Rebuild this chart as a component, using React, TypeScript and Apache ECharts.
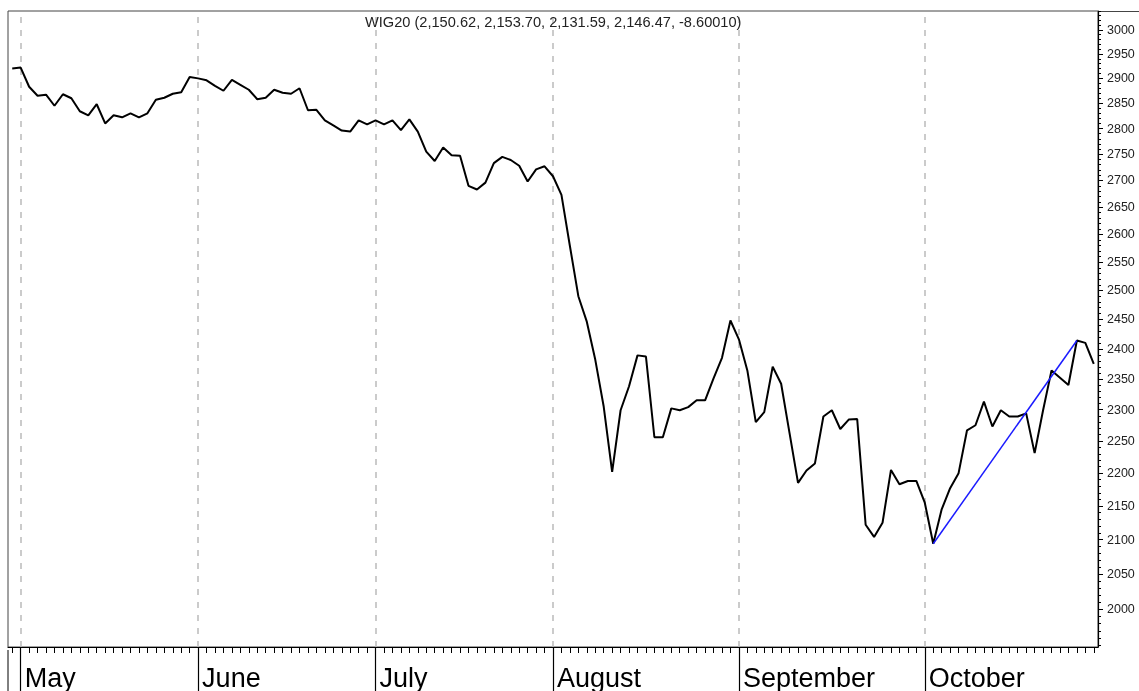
import React, { useEffect, useRef } from 'react';
import * as echarts from 'echarts';

const titleText = 'WIG20 (2,150.62, 2,153.70, 2,131.59, 2,146.47, -8.60010)';

const months = ['May', 'June', 'July', 'August', 'September', 'October'];
// index of the first trading day of each month in the closes array
const monthStarts = [1, 22, 43, 64, 86, 108];

const closes = [
  2920, 2922, 2883, 2865, 2867, 2845, 2868, 2860, 2834, 2826,
  2848, 2810, 2826, 2822, 2830, 2822, 2830, 2857, 2861, 2869,
  2872, 2903, 2900, 2896, 2885, 2875, 2897, 2887, 2877, 2858,
  2861, 2877, 2871, 2869, 2880, 2836, 2837, 2816, 2806, 2796,
  2794, 2816, 2808, 2816, 2808, 2816, 2797, 2818, 2794, 2755,
  2737, 2763, 2748, 2747, 2690, 2683, 2696, 2733, 2745, 2739,
  2728, 2698, 2721, 2727, 2708, 2673, 2579, 2490, 2446, 2382,
  2305, 2202, 2299, 2338, 2389, 2387, 2256, 2256, 2302, 2299,
  2304, 2315, 2315, 2351, 2385, 2448, 2416, 2364, 2280, 2296,
  2370, 2342, 2262, 2185, 2204, 2215, 2289, 2299, 2269, 2284,
  2285, 2122, 2104, 2125, 2205, 2183, 2188, 2188, 2155, 2094,
  2145, 2177, 2200, 2267, 2275, 2313, 2273, 2299, 2289, 2289,
  2294, 2231, 2299, 2364, 2352, 2340, 2414, 2410, 2375,
];

const trendStart = [109, 2094];
const trendEnd = [126, 2414];

const yTicks = [
  2000, 2050, 2100, 2150, 2200, 2250, 2300, 2350, 2400, 2450, 2500,
  2550, 2600, 2650, 2700, 2750, 2800, 2850, 2900, 2950, 3000,
];
const yMin = 1948;
const yMax = 3040;

export default function App() {
  const ref = useRef<HTMLDivElement>(null);

  useEffect(() => {
    const chart = echarts.init(ref.current as HTMLDivElement, null, { renderer: 'svg' });
    const days = closes.map((_, i) => String(i));
    const minorTicks: number[] = [];
    for (let v = 1950; v <= yMax; v += 10) minorTicks.push(v);
    const isMonth = (i: number) => monthStarts.indexOf(i) >= 0;
    const font = 'Liberation Sans, Arial, sans-serif';

    chart.setOption({
      animation: false,
      title: {
        text: titleText,
        left: 365,
        top: 14,
        padding: 0,
        textStyle: { fontSize: 14.6, fontWeight: 'normal', color: '#222', fontFamily: font },
      },
      grid: {
        left: 8,
        right: 41,
        top: 11,
        bottom: 41,
        containLabel: false,
        show: true,
        borderColor: '#444',
        borderWidth: 1,
        backgroundColor: 'transparent',
      },
      xAxis: [
        {
          type: 'category',
          data: days,
          boundaryGap: true,
          position: 'bottom',
          axisLine: { show: true, lineStyle: { color: '#000', width: 1.2 } },
          axisTick: { show: true, interval: 0, alignWithLabel: true, length: 6, lineStyle: { color: '#000', width: 1 } },
          axisLabel: { show: false },
          splitLine: { show: false },
        },
        {
          type: 'category',
          data: days,
          boundaryGap: true,
          position: 'bottom',
          axisLine: { show: false },
          axisTick: {
            show: true,
            interval: (i: number) => isMonth(i),
            alignWithLabel: true,
            length: 45,
            lineStyle: { color: '#000', width: 1.2 },
          },
          axisLabel: {
            show: true,
            interval: (i: number) => isMonth(i),
            formatter: (v: string) => {
              const k = monthStarts.indexOf(Number(v));
              return k >= 0 ? months[k] : '';
            },
            align: 'left',
            padding: [0, 0, 0, 4],
            margin: 17,
            fontSize: 27,
            color: '#000',
            fontFamily: font,
          },
          splitLine: { show: false },
        },
      ],
      yAxis: [
        {
          type: 'log',
          logBase: 10,
          position: 'right',
          min: yMin,
          max: yMax,
          axisLine: { show: true, lineStyle: { color: '#000', width: 1.2 } },
          axisTick: { show: true, customValues: yTicks, length: 5, lineStyle: { color: '#000', width: 1 } },
          axisLabel: {
            show: true,
            customValues: yTicks,
            margin: 9,
            fontSize: 12.5,
            color: '#222',
            fontFamily: font,
            formatter: (v: number) => String(Math.round(v)),
          },
          splitLine: { show: false },
          minorTick: { show: false },
        },
        {
          type: 'log',
          logBase: 10,
          position: 'right',
          min: yMin,
          max: yMax,
          axisLine: { show: false },
          axisTick: { show: true, customValues: minorTicks, length: 3, lineStyle: { color: '#000', width: 1 } },
          axisLabel: { show: false },
          splitLine: { show: false },
        },
      ],
      series: [
        {
          type: 'line',
          xAxisIndex: 0,
          yAxisIndex: 0,
          data: closes,
          symbol: 'none',
          lineStyle: { color: '#000', width: 2 },
          silent: true,
          z: 3,
          markLine: {
            silent: true,
            symbol: ['none', 'none'],
            label: { show: false },
            lineStyle: { color: '#bbb', type: [6, 7], width: 1.5 },
            z: 1,
            data: monthStarts.map((i) => ({ xAxis: i })),
          },
        },
        {
          type: 'line',
          xAxisIndex: 0,
          yAxisIndex: 0,
          data: [trendStart, trendEnd],
          symbol: 'none',
          lineStyle: { color: '#1a1aff', width: 1.5 },
          silent: true,
          z: 4,
        },
      ],
      graphic: [
        { type: 'line', shape: { x1: 1098, y1: 11.5, x2: 1139, y2: 11.5 }, style: { stroke: '#444', lineWidth: 1 } },
        { type: 'line', shape: { x1: 8, y1: 650, x2: 8, y2: 691 }, style: { stroke: '#000', lineWidth: 1 } },
      ],
    });

    return () => chart.dispose();
  }, []);

  return <div ref={ref} style={{ position: 'fixed', left: 0, top: 0, width: 1139, height: 691 }} />;
}
